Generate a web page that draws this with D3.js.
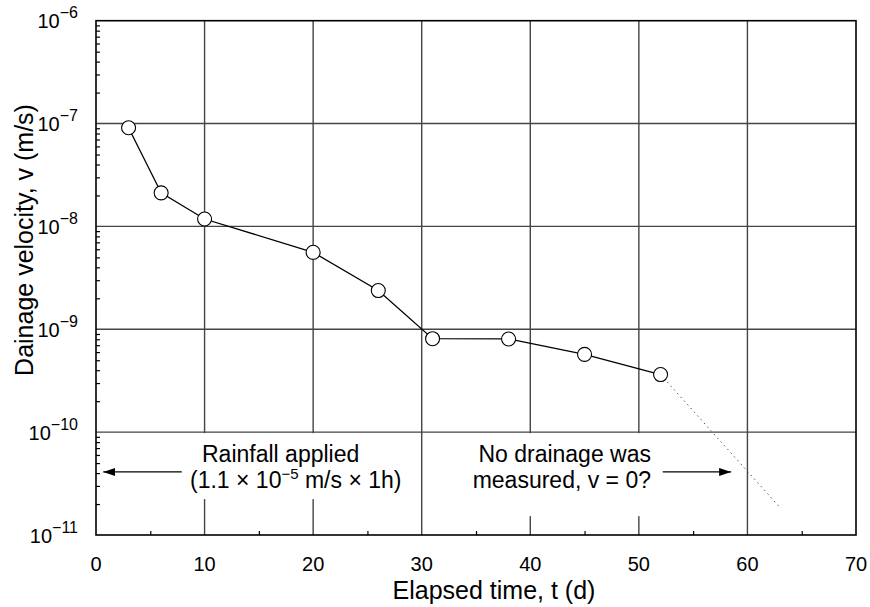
<!DOCTYPE html>
<html>
<head>
<meta charset="utf-8">
<script src="https://cdn.jsdelivr.net/npm/d3@7/dist/d3.min.js"></script>
<style>
  html, body { margin: 0; padding: 0; background: #fff; }
  svg { display: block; font-family: Arial, "Liberation Sans", Helvetica, sans-serif; }
</style>
</head>
<body>
<svg id="chart" width="870" height="607"></svg>
<script>
// ---- data ----
const days = [3, 6, 10, 20, 26, 31, 38, 45, 52];
const velocity = [9.1e-8, 2.12e-8, 1.18e-8, 5.6e-9, 2.38e-9, 8.1e-10, 8.05e-10, 5.7e-10, 3.63e-10];
const extrapDays = [52, 63];
const extrapVelocity = [3.63e-10, 1.85e-11];
const xTicks = [0, 10, 20, 30, 40, 50, 60, 70];
const xMinorTicks = [5, 15, 25, 35, 45, 55, 65];
const yExponents = [-6, -7, -8, -9, -10, -11];
const xTitle = "Elapsed time, t (d)";
const yTitle = "Dainage velocity, v (m/s)";

// ---- scales ----
const svg = d3.select("#chart");
const x = d3.scaleLinear().domain([0, 70]).range([96, 856]);
const y = d3.scaleLog().domain([1e-11, 1e-6]).range([535, 20.7]);

const defs = svg.append("defs");
defs.append("marker").attr("id", "arrow").attr("viewBox", "0 0 12 8")
  .attr("refX", 12).attr("refY", 4).attr("markerWidth", 12).attr("markerHeight", 8)
  .attr("markerUnits", "userSpaceOnUse").attr("orient", "auto")
  .append("path").attr("d", "M0,0 L12,4 L0,8 Z").attr("fill", "#000");

// grid (vertical)
const grid = svg.append("g");
grid.selectAll("line.v").data(xTicks.slice(1, -1)).join("line")
  .attr("x1", d => x(d)).attr("x2", d => x(d))
  .attr("y1", y(1e-6)).attr("y2", y(1e-11))
  .attr("stroke", "#444").attr("stroke-width", 1.4);

// white boxes behind annotation texts (they hide the grid)
svg.append("rect").attr("x", 186).attr("y", y(1e-10) + 1).attr("width", 224).attr("height", 66).attr("fill", "#fff");
svg.append("rect").attr("x", 470).attr("y", y(1e-10) + 1).attr("width", 186).attr("height", 83).attr("fill", "#fff");

// grid (horizontal)
grid.append("g").selectAll("line").data(yExponents.slice(1, -1)).join("line")
  .attr("x1", x(0)).attr("x2", x(70))
  .attr("y1", d => y(Math.pow(10, d))).attr("y2", d => y(Math.pow(10, d)))
  .attr("stroke", "#444").attr("stroke-width", 1.4);

// minor ticks - left axis (inside)
const yMinor = [];
for (let e = -11; e < -6; e++) for (let m = 2; m <= 9; m++) yMinor.push(m * Math.pow(10, e));
const yAxis = d3.axisRight(y).tickValues(yMinor).tickSize(4).tickFormat("");
svg.append("g").attr("transform", `translate(${x(0)},0)`).call(yAxis)
  .call(g => g.select(".domain").remove())
  .call(g => g.selectAll("line").attr("stroke", "#000").attr("stroke-width", 1.2));

// minor ticks - bottom axis (inside)
const xAxis = d3.axisTop(x).tickValues(xMinorTicks).tickSize(4).tickFormat("");
svg.append("g").attr("transform", `translate(0,${y(1e-11)})`).call(xAxis)
  .call(g => g.select(".domain").remove())
  .call(g => g.selectAll("line").attr("stroke", "#000").attr("stroke-width", 1.2));

// frame
svg.append("rect").attr("x", x(0)).attr("y", y(1e-6))
  .attr("width", x(70) - x(0)).attr("height", y(1e-11) - y(1e-6))
  .attr("fill", "none").attr("stroke", "#000").attr("stroke-width", 1.6);

// x tick labels
svg.append("g").selectAll("text").data(xTicks).join("text")
  .attr("x", d => x(d)).attr("y", 571)
  .attr("text-anchor", "middle").attr("font-size", 20).attr("fill", "#000")
  .text(d => d);

// y tick labels
const yl = svg.append("g").selectAll("text").data(yExponents).join("text")
  .attr("x", 78).attr("y", d => y(Math.pow(10, d)) + 7.5)
  .attr("text-anchor", "end").attr("font-size", 20).attr("fill", "#000");
yl.append("tspan").text("10");
yl.append("tspan").attr("dy", -10).attr("font-size", 16).text(d => "\u2212" + Math.abs(d));

// axis titles
svg.append("text").attr("x", 494).attr("y", 599).attr("text-anchor", "middle")
  .attr("font-size", 25).attr("fill", "#000").text(xTitle);
svg.append("text").attr("transform", `translate(33,${240}) rotate(-90)`)
  .attr("text-anchor", "middle").attr("font-size", 25).attr("fill", "#000").text(yTitle);

// extrapolation (dotted)
const pts = days.map((d, i) => [d, velocity[i]]);
const ext = extrapDays.map((d, i) => [d, extrapVelocity[i]]);
const line = d3.line().x(d => x(d[0])).y(d => y(d[1]));
svg.append("path").attr("d", line(ext)).attr("fill", "none")
  .attr("stroke", "#555").attr("stroke-width", 1).attr("stroke-dasharray", "1.5,3.5");

// data line
svg.append("path").attr("d", line(pts)).attr("fill", "none")
  .attr("stroke", "#000").attr("stroke-width", 1.3);
svg.append("g").selectAll("circle").data(pts).join("circle")
  .attr("cx", d => x(d[0])).attr("cy", d => y(d[1])).attr("r", 7)
  .attr("fill", "#fff").attr("stroke", "#000").attr("stroke-width", 1.1);

// annotations
const arrowY = y(4.1e-11);
svg.append("line").attr("x1", x(7.9)).attr("x2", x(0.67)).attr("y1", arrowY).attr("y2", arrowY)
  .attr("stroke", "#000").attr("stroke-width", 1.2).attr("marker-end", "url(#arrow)");
svg.append("line").attr("x1", x(52.2)).attr("x2", x(58.5)).attr("y1", arrowY).attr("y2", arrowY)
  .attr("stroke", "#000").attr("stroke-width", 1.2).attr("marker-end", "url(#arrow)");

const ann = svg.append("g").attr("font-size", 23).attr("fill", "#000");
ann.append("text").attr("x", 202).attr("y", 461.5).text("Rainfall applied");
const t2 = ann.append("text").attr("x", 190).attr("y", 488);
t2.append("tspan").text("(1.1 \u00d7 10");
t2.append("tspan").attr("dy", -9).attr("font-size", 15).text("\u22125");
t2.append("tspan").attr("dy", 9).text(" m/s \u00d7 1h)");
ann.append("text").attr("x", 651).attr("y", 461.5).attr("text-anchor", "end").text("No drainage was");
ann.append("text").attr("x", 651).attr("y", 488).attr("text-anchor", "end").text("measured, v = 0?");
</script>
</body>
</html>
